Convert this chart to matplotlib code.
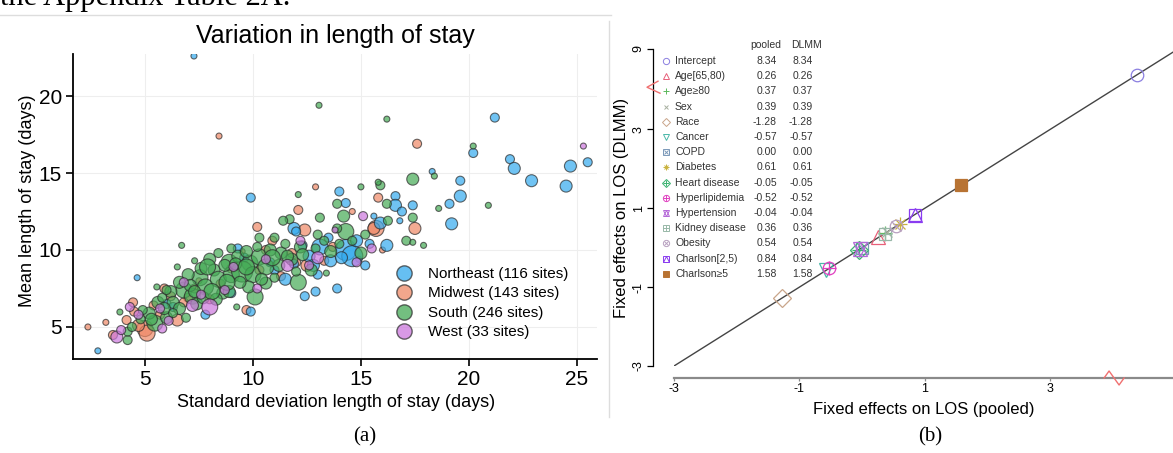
import numpy as np
import matplotlib
matplotlib.use("Agg")
import matplotlib.pyplot as plt
from matplotlib.lines import Line2D

plt.rcParams['font.family'] = ['Liberation Sans', 'DejaVu Sans']

# ---------------- panel (a): mean vs sd of length of stay, per site ----------------
# volume class 1 (small site) .. 5 (large site)
ne_sd = [7.27, 9.9, 11.9, 21.2, 20.2, 21.9, 22.1, 25.5, 24.7, 22.9, 24.5, 18.3, 19.6, 19.6, 19.1,
         19.2, 17.4, 16.6, 16.6, 16.9, 14.0, 14.3, 15.6, 15.9, 16.8, 16.2, 12.0, 4.64, 2.82, 9.9,
         13.1, 14.3, 14.6, 15.2, 12.4, 12.9, 13.9, 11.0, 12.6, 13.6, 10.8, 6.0, 6.3, 7.8, 9.0,
         14.8, 13.5, 15.4, 12.3, 11.5, 9.3, 12.8, 11.9, 9.6, 14.1, 13.0]
ne_mean = [22.6, 13.4, 11.4, 18.6, 16.3, 15.9, 15.3, 15.7, 15.45, 14.5, 14.15, 15.1, 14.5, 13.5, 13.0,
           11.7, 12.9, 13.5, 12.9, 12.5, 13.8, 13.05, 12.2, 11.75, 11.9, 10.3, 11.2, 8.2, 3.45, 6.0,
           10.2, 10.0, 9.6, 9.0, 7.0, 7.3, 7.5, 8.7, 9.6, 9.3, 9.2, 6.5, 6.3, 5.8, 7.2,
           10.6, 10.8, 10.4, 10.3, 8.1, 10.1, 9.0, 9.1, 9.5, 9.5, 8.4]
ne_vol = [1, 2, 3, 2, 2, 2, 3, 2, 3, 3, 3, 1, 2, 3, 2,
          3, 2, 2, 3, 2, 2, 2, 1, 3, 1, 3, 2, 1, 1, 2,
          4, 5, 5, 2, 2, 2, 2, 2, 3, 3, 2, 2, 2, 2, 2,
          3, 2, 2, 2, 3, 2, 3, 2, 2, 3, 2]

mw_sd = [8.43, 10.2, 12.1, 17.6, 12.9, 15.8, 14.6, 15.7, 17.5, 15.6, 12.5, 2.36, 3.19, 3.52, 5.0,
         5.1, 4.45, 4.15, 5.4, 5.9, 6.5, 9.7, 4.5, 9.5, 10.6, 12.4, 7.0, 8.5, 6.8, 11.3,
         13.3, 14.9, 6.2, 9.0, 7.5, 10.9, 5.7, 4.7, 8.0, 11.8, 16.0, 10.3, 12.0, 7.3, 13.7]
mw_mean = [17.4, 11.5, 12.6, 16.9, 14.1, 13.4, 12.5, 11.4, 11.4, 11.4, 9.0, 5.0, 5.3, 4.48, 4.9,
           4.6, 6.6, 5.45, 6.4, 7.5, 5.45, 6.1, 6.0, 9.9, 10.0, 11.3, 6.9, 7.8, 6.6, 8.3,
           9.3, 9.4, 7.0, 8.8, 8.0, 10.6, 5.8, 5.1, 6.8, 9.8, 10.0, 8.7, 9.2, 7.5, 10.2]
mw_vol = [1, 2, 2, 2, 1, 2, 1, 4, 3, 3, 3, 1, 1, 2, 4,
          4, 2, 2, 2, 2, 3, 2, 2, 1, 2, 3, 2, 2, 2, 2,
          2, 1, 2, 2, 1, 2, 2, 3, 2, 2, 1, 2, 2, 2, 2]

so_sd = [6.7, 6.5, 11.7, 12.1, 13.06, 16.2, 20.2, 18.4, 17.4, 20.9, 18.6, 17.4, 17.1, 17.4, 17.9,
         15.9, 15.8, 16.2, 15.0, 13.9, 13.1, 14.2, 14.3, 15.2, 16.25, 11.4, 3.84, 4.2, 4.2, 9.25,
         5.46, 5.55, 10.1, 10.6, 9.86, 10.3, 11.3, 8.9, 8.2, 7.55, 6.8, 6.2, 5.6, 12.1, 6.3,
         7.2, 7.8, 8.4, 9.0, 9.5, 10.0, 10.6, 11.2, 11.8, 12.2, 7.0, 7.6, 8.0, 8.6, 6.0,
         5.2, 4.8, 6.6, 7.4, 8.3, 9.8, 10.8, 9.3, 11.5, 13.6, 14.0, 15.0, 13.0, 12.7, 5.8,
         6.9, 4.4, 9.0, 8.4, 7.3, 10.3, 13.4,
         6.6, 7.1, 7.9, 8.7, 9.2, 9.7, 10.2, 10.9, 11.6, 12.3, 12.9, 13.3, 5.9, 5.3, 6.3,
         7.7, 8.9, 9.4, 10.4, 11.0, 8.1, 8.8, 9.7, 7.3, 6.0, 4.9, 12.0, 14.6, 13.9, 11.0]
so_mean = [10.3, 8.9, 12.0, 13.6, 19.4, 18.5, 16.75, 14.8, 14.6, 12.9, 12.7, 12.1, 10.6, 10.5, 10.3,
           14.2, 14.4, 13.0, 14.1, 13.0, 12.1, 12.2, 11.2, 11.0, 11.9, 11.9, 5.97, 4.15, 4.7, 6.3,
           5.25, 7.6, 6.95, 7.85, 9.15, 9.55, 9.8, 9.2, 8.7, 8.2, 7.4, 7.3, 6.6, 7.9, 6.6,
           7.0, 7.6, 8.1, 8.4, 8.6, 8.4, 8.9, 9.0, 9.4, 10.2, 8.4, 8.8, 9.4, 7.2, 5.6,
           5.9, 5.5, 6.2, 6.5, 6.8, 7.6, 10.0, 9.6, 10.4, 9.9, 10.4, 9.8, 11.0, 8.7, 6.9,
           5.6, 5.0, 10.1, 9.8, 9.3, 10.8, 8.5,
           7.9, 7.7, 8.9, 9.0, 9.1, 9.9, 10.2, 9.5, 9.6, 9.7, 10.1, 10.6, 6.2, 5.5, 5.9,
           6.9, 7.3, 7.9, 8.1, 8.2, 7.3, 7.9, 8.9, 7.3, 7.4, 6.1, 8.6, 10.6, 11.4, 10.8]
so_vol = [1, 1, 2, 1, 1, 1, 1, 1, 3, 1, 1, 2, 2, 1, 1,
          2, 1, 2, 1, 2, 2, 3, 4, 2, 2, 2, 1, 2, 2, 1,
          4, 1, 4, 3, 4, 4, 3, 4, 3, 4, 4, 3, 3, 4, 3,
          4, 4, 4, 4, 5, 4, 4, 3, 3, 3, 3, 3, 3, 3, 3,
          3, 2, 3, 3, 3, 3, 3, 3, 2, 3, 2, 3, 2, 3, 2,
          2, 2, 2, 2, 1, 2, 1,
          3, 3, 4, 3, 3, 3, 2, 4, 3, 3, 2, 2, 3, 3, 2,
          3, 3, 3, 3, 2, 4, 4, 4, 3, 2, 2, 2, 2, 2, 2]

we_sd = [3.7, 25.3, 8.0, 7.2, 5.8, 15.1, 11.6, 5.7, 4.3, 4.7, 6.8, 9.1, 12.6, 13.0, 14.8,
         10.2, 6.1, 8.7, 3.9, 13.8, 15.5, 10.6, 7.6, 12.2]
we_mean = [4.35, 16.75, 6.3, 6.4, 4.9, 12.2, 9.0, 6.2, 6.3, 5.8, 7.9, 8.9, 9.0, 9.5, 9.2,
           7.5, 5.4, 7.4, 4.8, 11.3, 10.1, 9.4, 7.1, 10.6]
we_vol = [3, 1, 4, 3, 2, 2, 3, 2, 2, 2, 2, 2, 2, 3, 2,
          2, 2, 2, 2, 1, 2, 2, 2, 2]

region_labels = ["Northeast (116 sites)", "Midwest (143 sites)", "South (246 sites)", "West (33 sites)"]

# ---------------- panel (b): fixed effects, pooled vs DLMM ----------------
terms = ["Intercept", "Age[65,80)", "Age\u226580", "Sex", "Race", "Cancer", "COPD", "Diabetes",
         "Heart disease", "Hyperlipidemia", "Hypertension", "Kidney disease", "Obesity",
         "Charlson[2,5)", "Charlson\u22655"]
pooled = [8.34, 0.26, 0.37, 0.39, -1.28, -0.57, 0.00, 0.61, -0.05, -0.52, -0.04, 0.36, 0.54, 0.84, 1.58]
dlmm = [8.34, 0.26, 0.37, 0.39, -1.28, -0.57, 0.00, 0.61, -0.05, -0.52, -0.04, 0.36, 0.54, 0.84, 1.58]

W, H = 1173, 453
fig = plt.figure(figsize=(W / 100, H / 100), dpi=100)


def box(x0, y0, x1, y1):
    # pixel box (top-left origin) -> figure fraction rect
    return [x0 / W, 1 - y1 / H, (x1 - x0) / W, (y1 - y0) / H]


# ---- panel (a)
ax = fig.add_axes(box(73, 54, 597, 359))
size_px = {1: 6, 2: 9, 3: 12, 4: 16, 5: 21}
cols = {"ne": "#33aaee", "mw": "#ee8866", "so": "#44aa55", "we": "#cc77dd"}


def sizes(vol):
    return [(size_px[v] * 0.72) ** 2 for v in vol]


for key, xs, ys, vol in [("mw", mw_sd, mw_mean, mw_vol), ("ne", ne_sd, ne_mean, ne_vol),
                         ("so", so_sd, so_mean, so_vol), ("we", we_sd, we_mean, we_vol)]:
    ax.scatter(xs, ys, s=sizes(vol), facecolor=cols[key], alpha=0.7,
               edgecolor="#2a2a2a", linewidth=0.8, zorder=3)

ax.set_xlim(1.67, 25.93)
ax.set_ylim(2.92, 22.73)
ax.set_xticks([5, 10, 15, 20, 25])
ax.set_yticks([5, 10, 15, 20])
ax.grid(True, color="#eeeeee", linewidth=0.8, zorder=0)
ax.set_axisbelow(True)
for s in ["top", "right"]:
    ax.spines[s].set_visible(False)
for s in ["left", "bottom"]:
    ax.spines[s].set_linewidth(1.3)
ax.tick_params(direction="out", length=5, width=1.2, labelsize=15, pad=3)
ax.set_xlabel("Standard deviation length of stay (days)", fontsize=13)
ax.set_ylabel("Mean length of stay (days)", fontsize=13)
ax.xaxis.set_label_coords(0.502, -0.115)
ax.yaxis.set_label_coords(-0.07, 0.52)
ax.set_title("Variation in length of stay", fontsize=18, pad=8)

handles = [Line2D([], [], linestyle="none", marker="o", markersize=11, markerfacecolor=cols[k],
                  markeredgecolor="#333333", alpha=0.75) for k in ["ne", "mw", "so", "we"]]
ax.legend(handles, region_labels, loc="upper left", bbox_to_anchor=(0.603, 0.327), frameon=False,
          fontsize=11, borderpad=0, handlelength=1.0, handletextpad=1.07, labelspacing=0.36)

# ---- panel (b): broken axes via a piecewise-linear scale (gap between 4 and 8)


def fwd(v):
    v = np.asarray(v, float)
    return np.where(v <= 4, v, np.where(v >= 8, v - 3.96, 4 + (v - 4) * 0.01))


def inv(u):
    u = np.asarray(u, float)
    return np.where(u <= 4, u, np.where(u >= 4.04, u + 3.96, 4 + (u - 4) / 0.01))


axb = fig.add_axes(box(674, 49, 1173, 366))
axb.patch.set_alpha(0)
axb.set_xscale("function", functions=(fwd, inv))
axb.set_yscale("function", functions=(fwd, inv))
axb.set_xlim(-3, 8.92)
axb.set_ylim(-3, 9)
axb.plot([-3, 9.5], [-3, 9.5], color="#444444", linewidth=1.0, zorder=2)

PCH = {
    1: [("o", False)], 2: [("^", False)], 3: [("+", False)], 4: [("x", False)],
    5: [("D", False)], 6: [("v", False)], 7: [("s", False), ("x", False)],
    8: [("+", False), ("x", False)], 9: [("D", False), ("+", False)],
    10: [("o", False), ("+", False)], 11: [("^", False), ("v", False)],
    12: [("s", False), ("+", False)], 13: [("o", False), ("x", False)],
    14: [("s", False), ("^", False)], 15: [("s", True)],
}
MSCALE = {"o": 1.0, "^": 1.1, "v": 1.1, "+": 1.05, "x": 0.75, "D": 1.0, "s": 0.95}
pch_cols = ["#8b7fe0", "#e8607a", "#5cb85c", "#a8b0a0", "#c9a58a", "#4bb8a9", "#7a98b8", "#c9b23c",
            "#3cb371", "#e040c0", "#b468d8", "#98b8a8", "#b8a0c0", "#8a3cf0", "#b87333"]


def draw_pch(a, x, y, pch, color, ms, lw=0.9):
    for m, filled in PCH[pch]:
        a.plot(x, y, linestyle="none", marker=m, markersize=ms * MSCALE[m],
               markerfacecolor=color if filled else "none", markeredgecolor=color,
               markeredgewidth=lw, zorder=3, clip_on=False)


for i in range(len(terms)):
    draw_pch(axb, [pooled[i]], [dlmm[i]], i + 1, pch_cols[i], 9)

axb.spines["top"].set_visible(False)
axb.spines["right"].set_visible(False)
axb.spines["left"].set_position(("outward", 15))
axb.spines["left"].set_linewidth(0.9)
axb.spines["bottom"].set_position(("outward", 8.6))
axb.spines["bottom"].set_color("#8a8a8a")
axb.spines["bottom"].set_linewidth(1.6)
axb.set_xticks([-3, -1, 1, 3])
axb.set_yticks([-3, -1, 1, 3, 9])
axb.set_xticklabels(["-3", "-1", "1", "3"])
axb.set_yticklabels(["-3", "-1", "1", "3", "9"], rotation=90, va="center")
axb.xaxis.set_minor_locator(matplotlib.ticker.NullLocator())
axb.yaxis.set_minor_locator(matplotlib.ticker.NullLocator())
axb.tick_params(axis="y", direction="out", length=4, width=0.9, labelsize=9, pad=2)
axb.tick_params(axis="x", direction="out", length=2.5, width=0.9, color="#8a8a8a", labelsize=9, pad=1)
axb.set_xlabel("Fixed effects on LOS (pooled)", fontsize=12, labelpad=5)
axb.set_ylabel("Fixed effects on LOS (DLMM)", fontsize=12, labelpad=3)

# ---- overlay in pixel coordinates: page text, separators, legend table, break marks
ov = fig.add_axes([0, 0, 1, 1])
ov.set_xlim(0, W)
ov.set_ylim(H, 0)
ov.axis("off")
ov.patch.set_alpha(0)

ov.text(0, 5, "the Appendix Table 2A.", family=["Liberation Serif"], fontsize=22, va="baseline")
ov.plot([0, 611], [15, 15], color="#dddddd", linewidth=1)
ov.plot([609, 609], [21, 417], color="#dddddd", linewidth=1)
ov.text(365, 437, "(a)", family=["Liberation Serif"], fontsize=15, ha="center", va="center")
ov.text(930, 437, "(b)", family=["Liberation Serif"], fontsize=15, ha="center", va="center")

# legend table
ov.text(766, 45, "pooled", fontsize=7.5, ha="center", va="center", color="#333333")
ov.text(806, 45, "DLMM", fontsize=7.5, ha="center", va="center", color="#333333")
for i, t in enumerate(terms):
    yy = 61 + 15.2 * i
    draw_pch(ov, [666], [yy], i + 1, pch_cols[i], 4.5, lw=0.7)
    ov.text(675, yy, t, fontsize=7.5, ha="left", va="center", color="#333333")
    ov.text(777, yy, f"{pooled[i]:.2f}", fontsize=7.5, ha="right", va="center", color="#333333")
    ov.text(813, yy, f"{dlmm[i]:.2f}", fontsize=7.5, ha="right", va="center", color="#333333")

# axis-break zigzags at value 6 (inside the gap)
fig.canvas.draw()
bx, _ = axb.transData.transform((6, -3))
_, by = axb.transData.transform((-3, 6))
zx = bx
zy = H - by
ov.plot([zx - 10, zx - 5, zx + 5, zx + 10], [378, 371, 385, 378], color="#f07070", linewidth=1.0)
ov.plot([658, 647, 660], [zy - 8, zy - 2, zy + 4], color="#f07070", linewidth=1.0)

fig.savefig("out.png", dpi=100)
